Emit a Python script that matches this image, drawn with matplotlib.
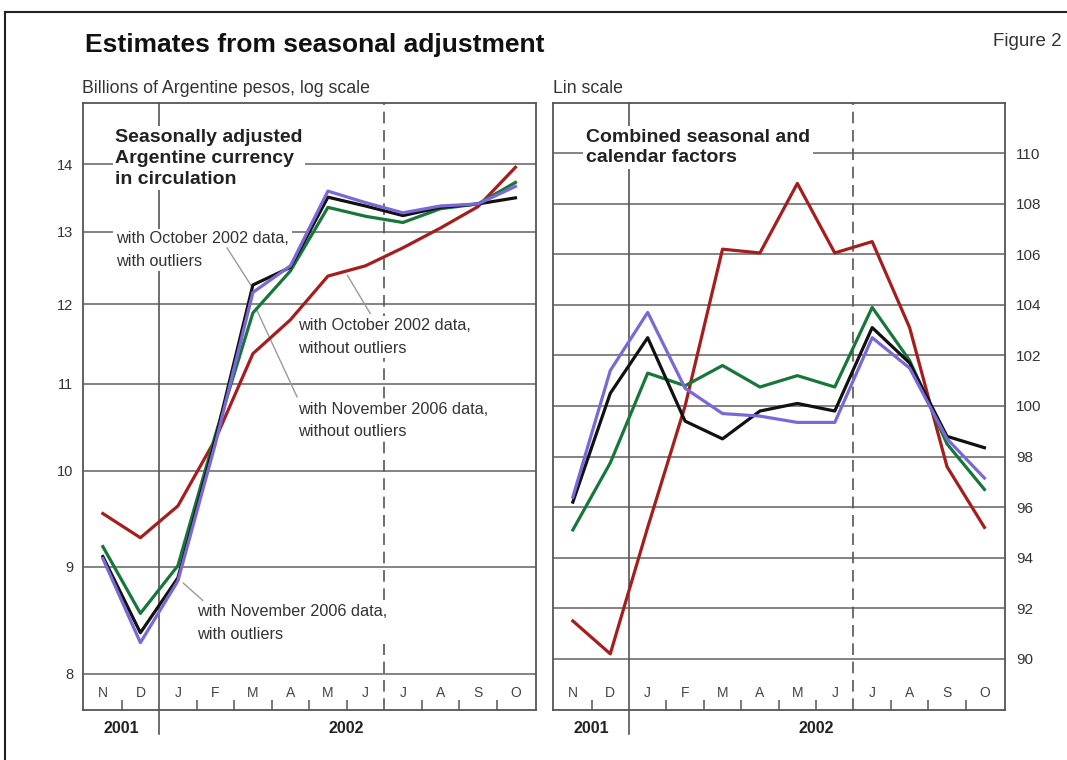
import numpy as np
import matplotlib
matplotlib.use('Agg')
from matplotlib import pyplot as plt
from matplotlib.lines import Line2D
from matplotlib.ticker import FixedLocator, FixedFormatter, NullLocator
import matplotlib.transforms as mtransforms

months = ['N', 'D', 'J', 'F', 'M', 'A', 'M', 'J', 'J', 'A', 'S', 'O']
years = ['2001', '2002']
year_centres = [0.5, 6.5]

# left panel: seasonally adjusted currency in circulation, billions of pesos
sa_oct02_with = [9.10, 8.37, 8.89, 10.35, 12.26, 12.50, 13.50, 13.37, 13.23, 13.35, 13.40, 13.49]
sa_oct02_without = [9.54, 9.29, 9.62, 10.35, 11.37, 11.80, 12.38, 12.52, 12.77, 13.05, 13.36, 13.95]
sa_nov06_without = [9.20, 8.55, 9.01, 10.40, 11.89, 12.45, 13.35, 13.22, 13.13, 13.33, 13.40, 13.72]
sa_nov06_with = [9.08, 8.28, 8.86, 10.30, 12.16, 12.52, 13.59, 13.42, 13.27, 13.37, 13.40, 13.66]

# right panel: combined seasonal and calendar factors
sf_oct02_with = [96.2, 100.5, 102.7, 99.4, 98.7, 99.8, 100.1, 99.8, 103.1, 101.7, 98.8, 98.35]
sf_oct02_without = [91.5, 90.2, 95.2, 100.0, 106.2, 106.05, 108.8, 106.05, 106.5, 103.1, 97.6, 95.2]
sf_nov06_without = [95.1, 97.75, 101.3, 100.8, 101.6, 100.75, 101.2, 100.75, 103.9, 101.8, 98.5, 96.7]
sf_nov06_with = [96.4, 101.4, 103.7, 100.7, 99.7, 99.6, 99.35, 99.35, 102.7, 101.5, 98.7, 97.15]

log_ticks = [8, 9, 10, 11, 12, 13, 14]
lin_ticks = [90, 92, 94, 96, 98, 100, 102, 104, 106, 108, 110]

RED = '#a61d1d'
GREEN = '#17773a'
BLACK = '#111111'
PURPLE = '#7b68d6'
GRID = '#7a7a7a'
TEXT = '#333333'
LEADER = '#9a9a9a'

plt.rcParams['font.family'] = ['Liberation Sans', 'DejaVu Sans']

fig = plt.figure(figsize=(10.67, 7.6), dpi=100)
ax1 = fig.add_axes([0.0778, 0.0658, 0.4246, 0.7987])
ax2 = fig.add_axes([0.5183, 0.0658, 0.4236, 0.7987])


def frame(ax):
    ax.set_xlim(-0.53, 11.55)
    ax.set_xticks([])
    bounds = [b for b in np.arange(0.5, 11, 1) if b not in (1.5, 7.5)]
    ax.set_xticks(bounds, minor=True)
    ax.tick_params(axis='x', which='minor', direction='in', length=7, width=1.1, color='#555555')
    ax.yaxis.grid(True, color=GRID, lw=1.3)
    ax.set_axisbelow(True)
    for s in ax.spines.values():
        s.set_color('#555555')
        s.set_linewidth(1.3)
    trans = mtransforms.blended_transform_factory(ax.transData, ax.transAxes)
    ax.plot([1.5, 1.5], [-0.04, 1], transform=trans, color='#555555', lw=1.2, clip_on=False, zorder=1)
    ax.plot([7.5, 7.5], [0, 1], transform=trans, color='#555555', lw=1.2, ls=(0, (7, 4)), zorder=1)
    for i, m in enumerate(months):
        ax.text(i, 0.028, m, transform=trans, ha='center', va='center', fontsize=10, color='#444444')
    for yr, xc in zip(years, year_centres):
        ax.text(xc, -0.03, yr, transform=trans, ha='center', va='center',
                fontsize=11.5, fontweight='bold', color='#222222')


def draw(ax, black, red, green, purple):
    x = np.arange(len(months))
    ax.plot(x, red, color=RED, lw=2.3, zorder=3)
    ax.plot(x, green, color=GREEN, lw=2.3, zorder=3)
    ax.plot(x, black, color=BLACK, lw=2.3, zorder=3)
    ax.plot(x, purple, color=PURPLE, lw=2.3, zorder=3)


# left panel
frame(ax1)
draw(ax1, sa_oct02_with, sa_oct02_without, sa_nov06_without, sa_nov06_with)
ax1.set_yscale('log')
ax1.set_ylim(7.69, 14.97)
ax1.yaxis.set_major_locator(FixedLocator(log_ticks))
ax1.yaxis.set_major_formatter(FixedFormatter([str(t) for t in log_ticks]))
ax1.yaxis.set_minor_locator(NullLocator())
ax1.tick_params(axis='y', length=0, pad=7, labelsize=10.5, labelcolor=TEXT)

box = dict(facecolor='white', edgecolor='none', pad=2)
ax1.text(0.33, 14.09, 'Seasonally adjusted\nArgentine currency\nin circulation', ha='left', va='center',
         fontsize=14, fontweight='bold', color='#222222', linespacing=1.3, bbox=box, zorder=2)

notes = [
    ('with October 2002 data,\nwith outliers', (0.35, 12.74), (3.31, 12.77), (3.98, 12.23)),
    ('with October 2002 data,\nwithout outliers', (5.21, 11.58), (6.52, 12.39), (7.13, 11.88)),
    ('with November 2006 data,\nwithout outliers', (5.21, 10.57), (4.11, 11.92), (5.18, 10.84)),
    ('with November 2006 data,\nwith outliers', (2.51, 8.46), (2.14, 8.84), (2.67, 8.67)),
]
for label, pos, start, end in notes:
    ax1.annotate('', xy=end, xytext=start,
                 arrowprops=dict(arrowstyle='-', color=LEADER, lw=1, shrinkA=0, shrinkB=0), zorder=2.5)
    ax1.text(pos[0], pos[1], label, ha='left', va='center', fontsize=11.7, color=TEXT,
             linespacing=1.6, bbox=box, zorder=2)

# right panel
frame(ax2)
draw(ax2, sf_oct02_with, sf_oct02_without, sf_nov06_without, sf_nov06_with)
ax2.set_ylim(87.98, 111.98)
ax2.set_yticks(lin_ticks)
ax2.yaxis.tick_right()
ax2.tick_params(axis='y', length=0, pad=8, labelsize=11, labelcolor=TEXT)
ax2.text(0.35, 110.22, 'Combined seasonal and\ncalendar factors', ha='left', va='center',
         fontsize=14, fontweight='bold', color='#222222', linespacing=1.3, bbox=box, zorder=2)

# headings
fig.text(0.0797, 0.941, 'Estimates from seasonal adjustment', ha='left', va='center',
         fontsize=19, fontweight='bold', color='#111111')
fig.text(0.995, 0.945, 'Figure 2', ha='right', va='center', fontsize=13.5, color=TEXT)
fig.text(0.077, 0.884, 'Billions of Argentine pesos, log scale', ha='left', va='center',
         fontsize=12.8, color=TEXT)
fig.text(0.518, 0.884, 'Lin scale', ha='left', va='center', fontsize=12.8, color=TEXT)

# outer frame, open on the right and bottom
fig.add_artist(Line2D([5 / 1067, 1], [1 - 12 / 760] * 2, transform=fig.transFigure, color='#222222', lw=1.5))
fig.add_artist(Line2D([5 / 1067] * 2, [0, 1 - 12 / 760], transform=fig.transFigure, color='#222222', lw=1.5))

fig.savefig('out.png', dpi=100)
